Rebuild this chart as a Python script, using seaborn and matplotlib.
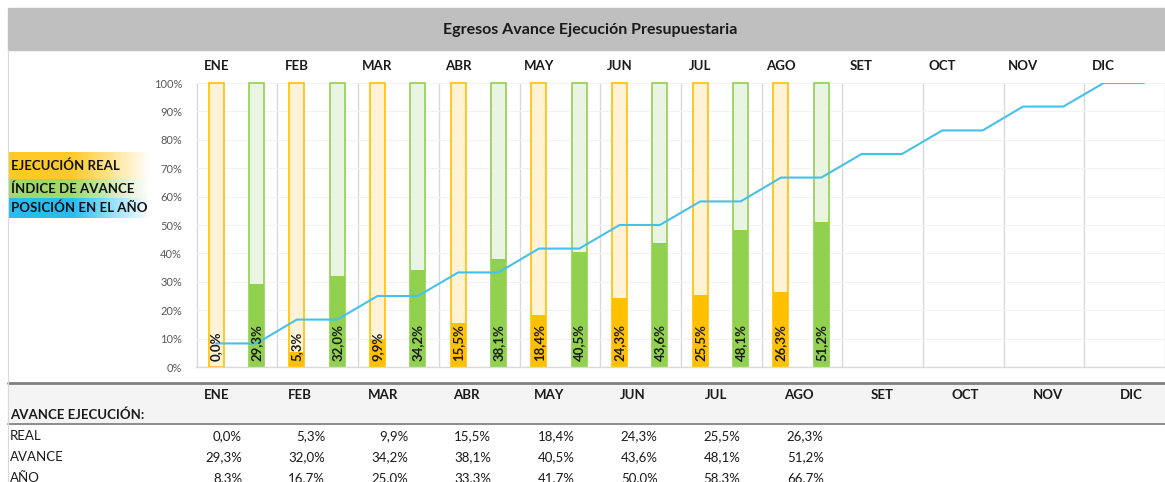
import numpy as np
import pandas as pd
import matplotlib
matplotlib.use("Agg")
import matplotlib.pyplot as plt
from matplotlib.patches import Rectangle
from matplotlib.colors import LinearSegmentedColormap
import seaborn as sns

# data
meses = ["ENE", "FEB", "MAR", "ABR", "MAY", "JUN", "JUL", "AGO", "SET", "OCT", "NOV", "DIC"]
real = [0.0, 5.3, 9.9, 15.5, 18.4, 24.3, 25.5, 26.3]
avance = [29.3, 32.0, 34.2, 38.1, 40.5, 43.6, 48.1, 51.2]
anio = [8.3, 16.7, 25.0, 33.3, 41.7, 50.0, 58.3, 66.7, 75.0, 83.3, 91.7, 100.0]
tope = 100.0

ORANGE = "#FFC000"
ORANGE_L = "#FFF2D6"
GREEN = "#92D050"
GREEN_L = "#EAF4E2"
BLUE = "#45C1EC"

W, H = 1165, 482
sns.set_style("white")
plt.rcParams["font.family"] = ["Lato", "DejaVu Sans"]

fig = plt.figure(figsize=(W / 100, H / 100), dpi=100)


def px(x0, y0, x1, y1):
    # pixel box (top-left origin) -> figure fraction rect
    return [x0 / W, 1 - y1 / H, (x1 - x0) / W, (y1 - y0) / H]


# title bar
fig.patches.append(Rectangle((8 / W, 1 - 50 / H), 1 - 8 / W, 42 / H,
                             transform=fig.transFigure, color="#BFBFBF", zorder=0))
fig.text(590 / W, 1 - 30 / H, "Egresos Avance Ejecución Presupuestaria",
         ha="center", va="center", fontsize=11.5, fontweight="bold", color="#1a1a1a")

# slots: two per month (real / avance)
slots = [f"{m}_{k}" for m in meses for k in ("R", "A")]
df_r = pd.DataFrame({"slot": [f"{m}_R" for m in meses[:len(real)]],
                     "val": np.array(real) / 100, "full": tope / 100})
df_a = pd.DataFrame({"slot": [f"{m}_A" for m in meses[:len(avance)]],
                     "val": np.array(avance) / 100, "full": tope / 100})

ax = fig.add_axes(px(196, 83, 1165, 367))
bw = 0.37
sns.barplot(data=df_r, x="slot", y="full", order=slots, color=ORANGE_L, saturation=1,
            edgecolor=ORANGE, linewidth=1.2, width=bw, errorbar=None, ax=ax)
sns.barplot(data=df_r, x="slot", y="val", order=slots, color=ORANGE, saturation=1,
            linewidth=0, width=bw, errorbar=None, ax=ax)
sns.barplot(data=df_a, x="slot", y="full", order=slots, color=GREEN_L, saturation=1,
            edgecolor=GREEN, linewidth=1.2, width=bw, errorbar=None, ax=ax)
sns.barplot(data=df_a, x="slot", y="val", order=slots, color=GREEN, saturation=1,
            linewidth=0, width=bw, errorbar=None, ax=ax)

# year position step line
xs = np.arange(len(slots))
ys = np.repeat(np.array(anio) / 100, 2)
sns.lineplot(x=xs, y=ys, color=BLUE, linewidth=1.5, ax=ax, zorder=4)

# rotated value labels in bars
for i, v in enumerate(real):
    ax.text(2 * i, 0.022, f"{v:.1f}%".replace(".", ","), rotation=90, ha="center",
            va="bottom", fontsize=9.5, fontweight="bold", color="#1a1a1a", zorder=5)
for i, v in enumerate(avance):
    ax.text(2 * i + 1, 0.022, f"{v:.1f}%".replace(".", ","), rotation=90, ha="center",
            va="bottom", fontsize=9.5, fontweight="bold", color="#1a1a1a", zorder=5)

ax.set_xlim(-0.5, -0.5 + 969 / 40.74)
ax.set_ylim(0, 1)
ax.set_xlabel("")
ax.set_ylabel("")
ax.set_xticks(np.arange(0, len(slots), 2))
ax.set_xticklabels(meses, fontsize=9.5, fontweight="bold", color="#1a1a1a")
ax.xaxis.tick_top()
ax.tick_params(axis="x", length=0, pad=8)
ax.set_yticks(np.arange(0, 1.01, 0.1))
ax.set_yticklabels([f"{int(round(t * 100))}%" for t in np.arange(0, 1.01, 0.1)],
                   fontsize=8, color="#595959")
ax.tick_params(axis="y", length=0, pad=10)
ax.set_xticks(np.arange(-0.5, len(slots), 2) + 0.02, minor=True)
ax.tick_params(axis="x", which="minor", length=0)
ax.grid(axis="x", which="minor", color="#D9D9D9", linewidth=1)
ax.grid(axis="y", which="major", color="#F2F2F2", linewidth=0.8)
ax.set_axisbelow(True)
for s in ("top", "right", "left"):
    ax.spines[s].set_visible(False)
ax.spines["bottom"].set_color("#D9D9D9")
ax.spines["bottom"].set_linewidth(1)
for p in ax.patches:
    p.set_clip_on(False)

# legend with gradient bands
legend = [("EJECUCIÓN REAL", ORANGE, 152, 179), ("ÍNDICE DE AVANCE", GREEN, 179, 198),
          ("POSICIÓN EN EL AÑO", "#00B0F0", 198, 218)]
grad = np.linspace(0, 1, 256).reshape(1, -1)
for label, col, y0, y1 in legend:
    lax = fig.add_axes(px(8, y0, 150, y1))
    cmap = LinearSegmentedColormap.from_list("g", [(0, col), (0.45, col), (1, "white")])
    lax.imshow(grad, cmap=cmap, aspect="auto", extent=(0, 1, 0, 1), alpha=0.85)
    lax.set_axis_off()
    lax.text(0.02, 0.5, label, ha="left", va="center", fontsize=9.5, fontweight="bold",
             color="#111111", transform=lax.transAxes)

# table under the chart
fig.patches.append(Rectangle((8 / W, 1 - 424 / H), 1 - 8 / W, 41 / H,
                             transform=fig.transFigure, color="#F4F4F4", zorder=0))
fig.add_artist(plt.Line2D([8 / W, 1], [1 - 383 / H] * 2, color="#7F7F7F", linewidth=2))
fig.add_artist(plt.Line2D([8 / W, 1], [1 - 424 / H] * 2, color="#8C8C8C", linewidth=1.4))
fig.add_artist(plt.Line2D([8 / W] * 2, [0, 1 - 50 / H], color="#D9D9D9", linewidth=0.8))

col_c = 217
col_w = 83.1
for i, m in enumerate(meses):
    fig.text((col_c + i * col_w) / W, 1 - 395 / H, m, ha="center", va="center",
             fontsize=9.5, fontweight="bold", color="#1a1a1a")
fig.text(10 / W, 1 - 415 / H, "AVANCE EJECUCIÓN:", ha="left", va="center",
         fontsize=9.5, fontweight="bold", color="#1a1a1a")
rows = [("REAL", real, 436), ("AVANCE", avance, 457), ("AÑO", anio[:len(real)], 478)]
for name, vals, yy in rows:
    fig.text(10 / W, 1 - yy / H, name, ha="left", va="center", fontsize=9.5, color="#1a1a1a")
    for i, v in enumerate(vals):
        fig.text((col_c + 25 + i * col_w) / W, 1 - yy / H, f"{v:.1f}%".replace(".", ","),
                 ha="right", va="center", fontsize=9.5, color="#1a1a1a")

fig.savefig("out.png", dpi=100)
